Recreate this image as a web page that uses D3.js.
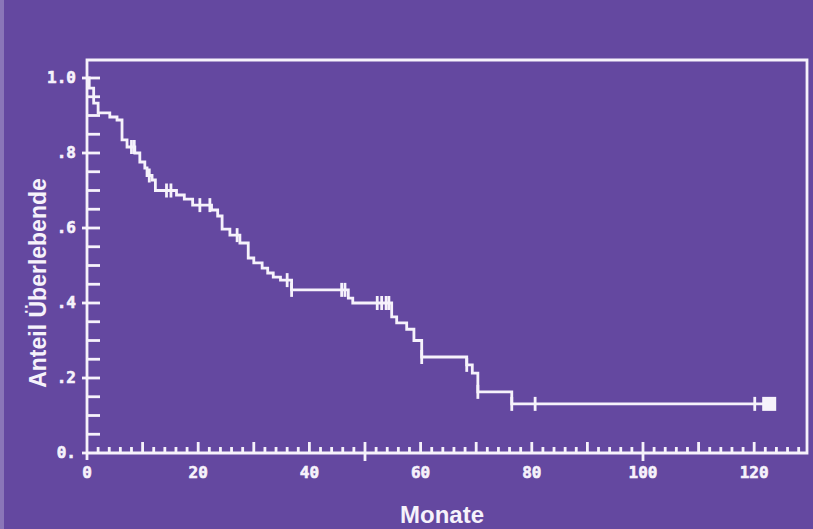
<!DOCTYPE html>
<html>
<head>
<meta charset="utf-8">
<script src="https://cdn.jsdelivr.net/npm/d3@7"></script>
<style>
  html, body { margin: 0; padding: 0; background: #6448a0; }
  svg { display: block; }
</style>
</head>
<body>
<div id="chart"></div>
<script>
// step times (months) and survival after each drop
const stepTimes = [0, 0.4, 1.2, 2.0, 4.1, 5.4, 6.3, 7.2, 8.6, 9.5, 10.4, 10.8, 11.7, 12.3,
  16.1, 17.5, 19.0, 22.4, 23.5, 24.3, 25.7, 27.5, 29.0, 30.0, 31.5, 32.5, 33.5, 34.8,
  36.8, 47.0, 47.8, 54.8, 55.7, 57.5, 58.8, 60.2, 68.3, 69.3, 70.3, 76.4];
const stepValues = [1.0, 0.973, 0.933, 0.907, 0.896, 0.888, 0.835, 0.816, 0.80, 0.776, 0.76, 0.74, 0.728, 0.70,
  0.688, 0.677, 0.661, 0.648, 0.632, 0.597, 0.581, 0.56, 0.52, 0.507, 0.493, 0.48, 0.469, 0.461,
  0.435, 0.413, 0.40, 0.363, 0.347, 0.33, 0.30, 0.256, 0.235, 0.213, 0.163, 0.131];
const endTime = 122.7;
// censored observations (months)
const censorTimes = [8.0, 8.5, 11.2, 14.3, 15.1, 20.3, 22.1, 27.0, 36.0, 36.8, 45.8, 46.4,
  52.2, 53.0, 53.8, 54.3, 60.2, 68.3, 70.3, 76.4, 80.6, 120.1];

const yTickLabels = ['0.', '.2', '.4', '.6', '.8', '1.0'];
const xTickLabels = [0, 20, 40, 60, 80, 100, 120];

const W = 813, H = 529;
const fg = '#f6f2fb';

const svg = d3.select('#chart').append('svg')
  .attr('width', W).attr('height', H);

svg.append('rect').attr('width', W).attr('height', H).attr('fill', '#6448a0');
svg.append('rect').attr('width', 4).attr('height', H).attr('fill', '#8a76b8');

const x = d3.scaleLinear().domain([0, 129.5]).range([87, 807]);
const y = d3.scaleLinear().domain([0, 1]).range([453, 78]);

const g = svg.append('g')
  .attr('stroke', fg)
  .attr('stroke-width', 2.8)
  .attr('fill', 'none');

// frame
g.append('path')
  .attr('d', `M${x(0)},460 V60 H${x(129.5)} V${y(0)} H${x(0)}`);

// y ticks every .05
const yTicks = d3.range(1, 21).map(i => i * 0.05);
g.selectAll('line.yt').data(yTicks).join('line')
  .attr('class', 'yt')
  .attr('x1', (d, i) => (i + 1) % 4 === 0 ? x(0) - 5 : x(0))
  .attr('x2', x(0) + 13)
  .attr('y1', d => y(d)).attr('y2', d => y(d));
g.append('line').attr('x1', x(0) - 5).attr('x2', x(0)).attr('y1', y(0)).attr('y2', y(0));

// x ticks every 2 months
const xTicks = d3.range(2, 130, 2);
g.selectAll('line.xt').data(xTicks).join('line')
  .attr('class', 'xt')
  .attr('x1', d => x(d)).attr('x2', d => x(d))
  .attr('y1', d => d % 50 === 0 ? y(0) + 8 : y(0))
  .attr('y2', d => y(0) - (d % 10 === 0 ? 11 : 6));

// tick labels
svg.append('g').selectAll('text').data(yTickLabels).join('text')
  .attr('x', 76)
  .attr('y', (d, i) => y(i * 0.2) + 5)
  .attr('text-anchor', 'end')
  .attr('fill', fg)
  .attr('stroke', fg).attr('stroke-width', 0.6)
  .style('font-family', 'DejaVu Sans Mono')
  .style('font-weight', 'bold')
  .style('font-size', '16px')
  .text(d => d);

svg.append('g').selectAll('text').data(xTickLabels).join('text')
  .attr('x', d => x(d))
  .attr('y', 478)
  .attr('text-anchor', 'middle')
  .attr('fill', fg)
  .attr('stroke', fg).attr('stroke-width', 0.6)
  .style('font-family', 'DejaVu Sans Mono')
  .style('font-weight', 'bold')
  .style('font-size', '16px')
  .text(d => d);

// axis titles
svg.append('text')
  .attr('x', 442).attr('y', 523)
  .attr('text-anchor', 'middle')
  .attr('fill', fg)
  .style('font-family', 'Liberation Sans')
  .style('font-weight', 'bold')
  .style('font-size', '24px')
  .text('Monate');

svg.append('text')
  .attr('transform', 'translate(46,283) rotate(-90)')
  .attr('text-anchor', 'middle')
  .attr('fill', fg)
  .style('font-family', 'Liberation Sans')
  .style('font-weight', 'bold')
  .style('font-size', '23px')
  .text('Anteil Überlebende');

// survival curve
const pts = stepTimes.map((t, i) => [t, stepValues[i]]);
pts.push([endTime, stepValues[stepValues.length - 1]]);
const line = d3.line().x(d => x(d[0])).y(d => y(d[1])).curve(d3.curveStepAfter);
g.append('path').attr('d', line(pts));

// censor marks
const survAt = t => {
  let s = stepValues[0];
  stepTimes.forEach((st, i) => { if (st <= t) s = stepValues[i]; });
  return s;
};
g.selectAll('line.cens').data(censorTimes).join('line')
  .attr('class', 'cens')
  .attr('x1', d => x(d)).attr('x2', d => x(d))
  .attr('y1', d => y(survAt(d)) - 7)
  .attr('y2', d => y(survAt(d)) + 7);

// end marker
svg.append('rect')
  .attr('x', x(endTime) - 7).attr('y', y(stepValues[stepValues.length - 1]) - 7)
  .attr('width', 14).attr('height', 14)
  .attr('fill', fg);
</script>
</body>
</html>
